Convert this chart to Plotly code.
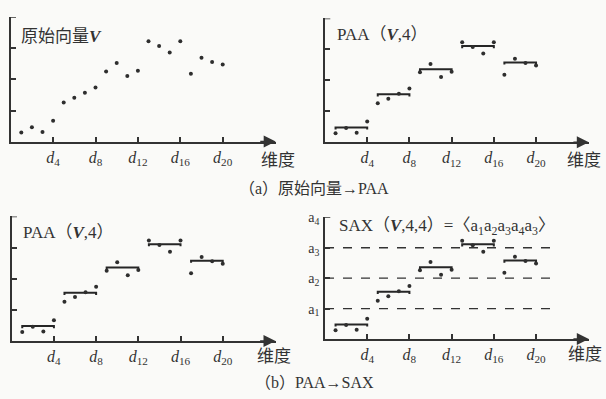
import plotly.graph_objects as go

# ---- data ----
dims = list(range(1, 21))
values = [0.29, 0.46, 0.31, 0.67, 1.26, 1.41, 1.57, 1.74, 2.26, 2.53,
          2.11, 2.28, 3.23, 3.08, 2.87, 3.23, 2.18, 2.70, 2.56, 2.48]
paa_start = [1, 5, 9, 13, 17]
paa_end = [4, 8, 12, 16, 20]
paa_values = [0.48, 1.55, 2.36, 3.11, 2.58]
sax_breaks = [1, 2, 3]
x_tickvals = [4, 8, 12, 16, 20]
x_ticktext = ["<i>d</i><sub>4</sub>", "<i>d</i><sub>8</sub>", "<i>d</i><sub>12</sub>",
              "<i>d</i><sub>16</sub>", "<i>d</i><sub>20</sub>"]
y_tickvals = [1, 2, 3, 4]
sax_ticktext = ["a<sub>1</sub>", "a<sub>2</sub>", "a<sub>3</sub>", "a<sub>4</sub>"]
axis_label = "维度"
titles = ["原始向量<b><i>V</i></b>", "PAA（<b><i>V</i></b>,4）", "PAA（<b><i>V</i></b>,4）",
          "SAX（<b><i>V</i></b>,4,4）=〈a<sub>1</sub>a<sub>2</sub>a<sub>3</sub>a<sub>4</sub>a<sub>3</sub>〉"]
captions = ["（a）原始向量→PAA", "（b）PAA→SAX"]

W, H = 606, 399
FONT = "Liberation Serif, Noto Sans CJK SC, serif"
INK = "#333333"
BG = "#fafaf8"

def px(x):
    return x / W

def py(y):
    return 1 - y / H

# panel boxes in pixels: (x0, x1, ybottom, ytop)
panels = [
    (10.7, 275.7, 137.0, 10.5),
    (325.0, 588.8, 137.7, 11.7),
    (11.7, 275.5, 340.0, 213.2),
    (325.0, 588.8, 338.0, 214.0),
]

fig = go.Figure()
layout = dict(
    width=W, height=H, margin=dict(l=0, r=0, t=0, b=0),
    paper_bgcolor=BG, plot_bgcolor=BG, showlegend=False,
    font=dict(family=FONT, color=INK, size=15),
)
annotations = []
shapes = []

for i, (x0, x1, yb, yt) in enumerate(panels):
    n = "" if i == 0 else str(i + 1)
    xa, ya = "x" + n, "y" + n
    layout["xaxis" + n] = dict(
        domain=[px(x0), px(x1)], range=[0, 25], anchor=ya,
        showline=True, linecolor=INK, linewidth=1.6, showgrid=False, zeroline=False,
        ticks="inside", ticklen=5, tickwidth=1.5, tickcolor=INK,
        tickvals=x_tickvals, ticktext=x_ticktext,
        tickfont=dict(family=FONT, size=16, color=INK),
    )
    ydict = dict(
        domain=[py(yb), py(yt)], range=[0, 4], anchor=xa,
        showline=True, linecolor=INK, linewidth=1.6, showgrid=False, zeroline=False,
        ticks="inside", ticklen=5, tickwidth=1.5, tickcolor=INK,
        tickvals=y_tickvals[:3],
    )
    if i == 3:
        ydict.update(tickvals=y_tickvals, ticktext=sax_ticktext, showticklabels=True,
                     tickfont=dict(family=FONT, size=14, color=INK), ticklabelstandoff=1)
    else:
        ydict.update(showticklabels=False)
    layout["yaxis" + n] = ydict

    # top bracket of y-axis
    shapes.append(dict(type="line", xref=xa, yref=ya, x0=0, x1=0.5, y0=4, y1=4,
                       line=dict(color=INK, width=1.5)))
    # arrow at the end of x-axis
    annotations.append(dict(x=25, y=0, xref=xa, yref=ya, ax=23.4, ay=0, axref=xa, ayref=ya,
                            showarrow=True, arrowhead=2, arrowsize=1.5, arrowwidth=1.6,
                            arrowcolor=INK, text=""))

    if i == 3:
        for b in sax_breaks:
            shapes.append(dict(type="line", xref=xa, yref=ya, x0=0, x1=22.1, y0=b, y1=b,
                               line=dict(color=INK, width=1.4, dash="dash")))

    if i > 0:
        for s, e, v in zip(paa_start, paa_end, paa_values):
            fig.add_trace(go.Scatter(x=[s, s, e, e], y=[v - 0.07, v, v, v - 0.07],
                                     xaxis=xa, yaxis=ya, mode="lines",
                                     line=dict(color="#262626", width=2), hoverinfo="skip"))
    fig.add_trace(go.Scatter(x=dims, y=values, xaxis=xa, yaxis=ya, mode="markers",
                             marker=dict(color="#2e2e2e", size=4)))

# panel titles
title_pos = [(19, 30), (335, 28), (21, 230), (337, 224)]
for (tx, ty), t in zip(title_pos, titles):
    annotations.append(dict(x=px(tx), y=py(ty), xref="paper", yref="paper", text=t,
                            showarrow=False, xanchor="left", yanchor="middle",
                            font=dict(family=FONT, size=17, color=INK)))

# axis names
label_pos = [(278, 156), (584, 156), (274, 356), (585, 354)]
for lx, ly in label_pos:
    annotations.append(dict(x=px(lx), y=py(ly), xref="paper", yref="paper", text=axis_label,
                            showarrow=False, xanchor="center", yanchor="middle",
                            font=dict(family=FONT, size=17, color=INK)))

# captions
cap_pos = [(314, 185), (314, 382)]
for (cx, cy), c in zip(cap_pos, captions):
    annotations.append(dict(x=px(cx), y=py(cy), xref="paper", yref="paper", text=c,
                            showarrow=False, xanchor="center", yanchor="middle",
                            font=dict(family=FONT, size=16, color=INK)))

layout["annotations"] = annotations
layout["shapes"] = shapes
fig.update_layout(**layout)
fig.write_html("out.html")
